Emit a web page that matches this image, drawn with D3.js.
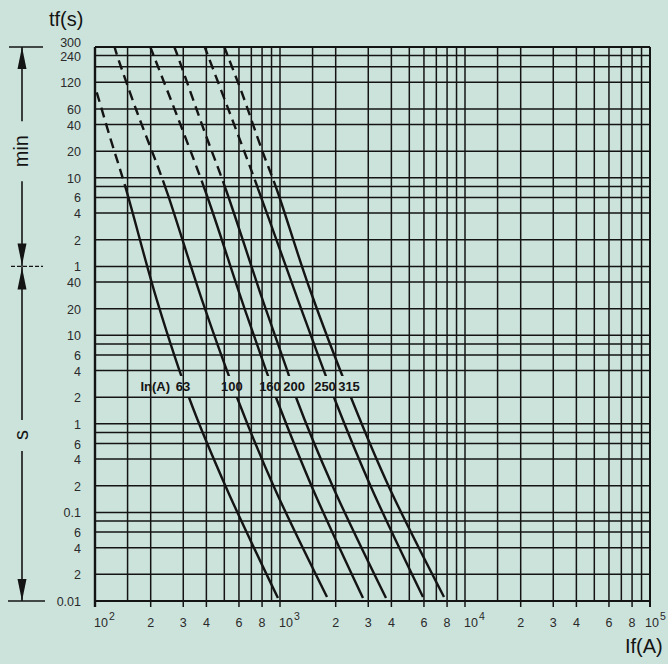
<!DOCTYPE html>
<html><head><meta charset="utf-8">
<script src="https://cdn.jsdelivr.net/npm/d3@7"></script>
<style>
html,body{margin:0;padding:0;background:#cce3dc;}
svg{display:block;}
text{font-family:"Liberation Sans",Arial,Helvetica,sans-serif;}
</style></head><body>
<svg id="chart" width="668" height="664"></svg>
<script>
// ---------- data ----------
const ratings = [63, 100, 160, 200, 250, 315];
// [prospective current A, pre-arcing time s]
const curve63  = [[96,8200],[100,6400],[120.5,1730],[147,450],[216,25],[326,1.86],[510,0.194],[975,0.0108]];
const curve100 = [[126.7,18950],[131.5,14600],[168.7,3320],[219,795],[248,384],[379,25],[593,1.86],[928,0.194],[1795,0.0111]];
const curve160 = [[198,18500],[206,15000],[393,437],[615,26.4],[851,3.75],[963,1.86],[1489,0.194],[2809,0.0108]];
const curve200 = [[267,18500],[277.5,15000],[388,2080],[511,437],[799,26.4],[1091,4.06],[1236,1.86],[1934,0.194],[3741,0.0108]];
const curve250 = [[388,18950],[403,15390],[715,645],[1251,25],[1983,1.86],[3104,0.194],[5929,0.0111]];
const curve315 = [[498,18500],[517,15000],[623,5441],[799,1236],[963,437],[1435,35.1],[2450,1.86],[3883,0.194],[7700,0.0111]];
const curves = [curve63, curve100, curve160, curve200, curve250, curve315];
const labelCurrents = [299, 550, 883, 1191, 1751, 2361];
const labelTime = 2.61;
const dashLimit = 450;   // s: dashed above, solid below

const decades = [100, 1000, 10000];
const gridMultipliers = [1, 1.5, 2, 3, 4, 5, 6, 7, 8, 9];
const xTickValues = [100,200,300,400,600,800,1000,2000,3000,4000,6000,8000,10000,20000,30000,40000,60000,80000,100000];
const xTickLabels = ["10^2","2","3","4","6","8","10^3","2","3","4","6","8","10^4","2","3","4","6","8","10^5"];

const yGridValues = [0.01,0.02,0.04,0.06,0.08,0.1,0.2,0.4,0.6,0.8,1,2,4,6,8,10,20,40,60,120,240,360,480,600,1200,2400,3600,7200,10800,14400,18000];
const yTickValues = [18000,14400,7200,3600,2400,1200,600,360,240,120,60,40,20,10,6,4,2,1,0.6,0.4,0.2,0.1,0.06,0.04,0.02,0.01];
const yTickLabels = ["300","240","120","60","40","20","10","6","4","2","1","40","20","10","6","4","2","1","6","4","2","0.1","6","4","2","0.01"];

// ---------- scales ----------
const svg = d3.select("#chart");
const x = d3.scaleLog().domain([100, 100000]).range([95, 650]);
const y = d3.scaleLog().domain([0.01, 18000]).range([601, 47]);
const ink = "#141414";

const defs = svg.append("defs");
defs.append("clipPath").attr("id","cDash").append("rect")
  .attr("x", x(100)).attr("y", y(18000)).attr("width", x(100000)-x(100)).attr("height", y(dashLimit)-y(18000));
const labY = y(labelTime);
const cs = defs.append("clipPath").attr("id","cSolid");
cs.append("rect").attr("x", x(100)).attr("y", y(dashLimit)).attr("width", x(100000)-x(100)).attr("height", (labY-11)-y(dashLimit));
cs.append("rect").attr("x", x(100)).attr("y", labY+10).attr("width", x(100000)-x(100)).attr("height", y(0.01)-(labY+10));

// ---------- grid ----------
const xGrid = [];
decades.forEach(d => gridMultipliers.forEach(m => xGrid.push(d*m)));
xGrid.push(100000);
const grid = svg.append("g");
grid.selectAll("line.v").data(xGrid).join("line").attr("class","v")
  .attr("x1", d=>x(d)).attr("x2", d=>x(d))
  .attr("y1", y(18000)).attr("y2", y(0.01))
  .attr("stroke", ink).attr("stroke-width", 1.5);
grid.selectAll("line.h").data(yGridValues).join("line").attr("class","h")
  .attr("x1", x(100)).attr("x2", x(100000))
  .attr("y1", d=>y(d)).attr("y2", d=>y(d))
  .attr("stroke", ink).attr("stroke-width", 1.5);
// tick extensions
grid.selectAll("line.t").data(xTickValues).join("line").attr("class","t")
  .attr("x1", d=>x(d)).attr("x2", d=>x(d))
  .attr("y1", y(0.01)).attr("y2", y(0.01)+6)
  .attr("stroke", ink).attr("stroke-width", 1.5);
// frame
grid.append("line").attr("x1",x(100)).attr("x2",x(100)).attr("y1",y(18000)).attr("y2",y(0.01)+6).attr("stroke",ink).attr("stroke-width",2.4);
grid.append("line").attr("x1",x(100000)).attr("x2",x(100000)).attr("y1",y(18000)).attr("y2",y(0.01)+6).attr("stroke",ink).attr("stroke-width",2);
grid.append("line").attr("x1",x(100)).attr("x2",x(100000)).attr("y1",y(0.01)).attr("y2",y(0.01)).attr("stroke",ink).attr("stroke-width",2.2);
grid.append("line").attr("x1",x(100)).attr("x2",x(100000)).attr("y1",y(18000)).attr("y2",y(18000)).attr("stroke",ink).attr("stroke-width",2);

// ---------- curves ----------
const line = d3.line().x(d=>x(d[0])).y(d=>y(d[1])).curve(d3.curveCatmullRom.alpha(0.5));
const cg = svg.append("g");
curves.forEach(c => {
  cg.append("path").attr("d", line(c)).attr("fill","none").attr("stroke",ink)
    .attr("stroke-width",2.4).attr("stroke-dasharray","10,6").attr("clip-path","url(#cDash)");
  cg.append("path").attr("d", line(c)).attr("fill","none").attr("stroke",ink)
    .attr("stroke-width",2.4).attr("clip-path","url(#cSolid)");
});

// curve labels
const lg = svg.append("g").attr("font-size",13).attr("font-weight","bold").attr("fill",ink);
lg.selectAll("text").data(ratings).join("text")
  .attr("x", (d,i)=>x(labelCurrents[i])).attr("y", labY)
  .attr("text-anchor","middle").attr("dominant-baseline","central").text(d=>d);
lg.append("text").attr("x", x(labelCurrents[0])-13).attr("y", labY)
  .attr("text-anchor","end").attr("dominant-baseline","central").text("In(A)");

// ---------- tick labels ----------
const tg = svg.append("g").attr("font-size",12.5).attr("fill","#2a2a2a");
xTickValues.forEach((v,i) => {
  const lab = xTickLabels[i];
  if (lab.includes("^")) {
    const [b,e] = lab.split("^");
    const last = i === xTickValues.length-1;
    const t = tg.append("text").attr("x", last ? x(v)-5 : x(v)-1).attr("y", 627).attr("text-anchor","start");
    t.append("tspan").text(b);
    t.append("tspan").attr("dx",1).attr("dy",-7).attr("font-size",10.5).text(e);
  } else {
    tg.append("text").attr("x", x(v)).attr("y", 627).attr("text-anchor","middle").text(lab);
  }
});
yTickValues.forEach((v,i) => {
  tg.append("text").attr("x", 81).attr("y", y(v) + (i===0 ? -4 : 1))
    .attr("text-anchor","end").attr("dominant-baseline","central").text(yTickLabels[i]);
});

// axis titles
svg.append("text").attr("x",49).attr("y",26).attr("font-size",20).attr("fill",ink).text("tf(s)");
svg.append("text").attr("x",625).attr("y",653).attr("font-size",20).attr("fill",ink).text("If(A)");

// ---------- left unit annotation ----------
const ax = 22;
const ann = svg.append("g").attr("stroke",ink).attr("fill",ink);
const yTop = y(18000), yMinute = y(60), yBot = y(0.01);
const yMinLab = y(1200), ySLab = y(0.75);
function seg(a,b){ ann.append("line").attr("x1",ax).attr("x2",ax).attr("y1",a).attr("y2",b).attr("stroke-width",1.6); }
seg(yTop, yMinLab-30); seg(yMinLab+30, yMinute);
seg(yMinute, ySLab-15); seg(ySLab+16, yBot);
function arrow(tip, dir){ // dir -1 pointing up, +1 pointing down
  const b = tip - dir*22;
  ann.append("path").attr("d",`M${ax},${tip}L${ax-4.5},${b}L${ax+4.5},${b}Z`).attr("stroke","none");
}
arrow(yTop,-1); arrow(yMinute-1,1); arrow(yMinute+1,-1); arrow(yBot,1);
ann.append("line").attr("x1",9).attr("x2",43).attr("y1",yTop).attr("y2",yTop).attr("stroke-width",1.6);
ann.append("line").attr("x1",8).attr("x2",45).attr("y1",yBot).attr("y2",yBot).attr("stroke-width",1.6);
ann.append("line").attr("x1",11).attr("x2",43).attr("y1",yMinute).attr("y2",yMinute).attr("stroke-width",1.2).attr("stroke-dasharray","4,2");
svg.append("text").attr("transform",`translate(${ax+6},${yMinLab}) rotate(-90)`).attr("text-anchor","middle")
  .attr("font-size",20).attr("fill",ink).text("min");
svg.append("text").attr("transform",`translate(${ax+6},${ySLab}) rotate(-90)`).attr("text-anchor","middle")
  .attr("font-size",20).attr("fill",ink).text("s");
</script>
</body></html>
